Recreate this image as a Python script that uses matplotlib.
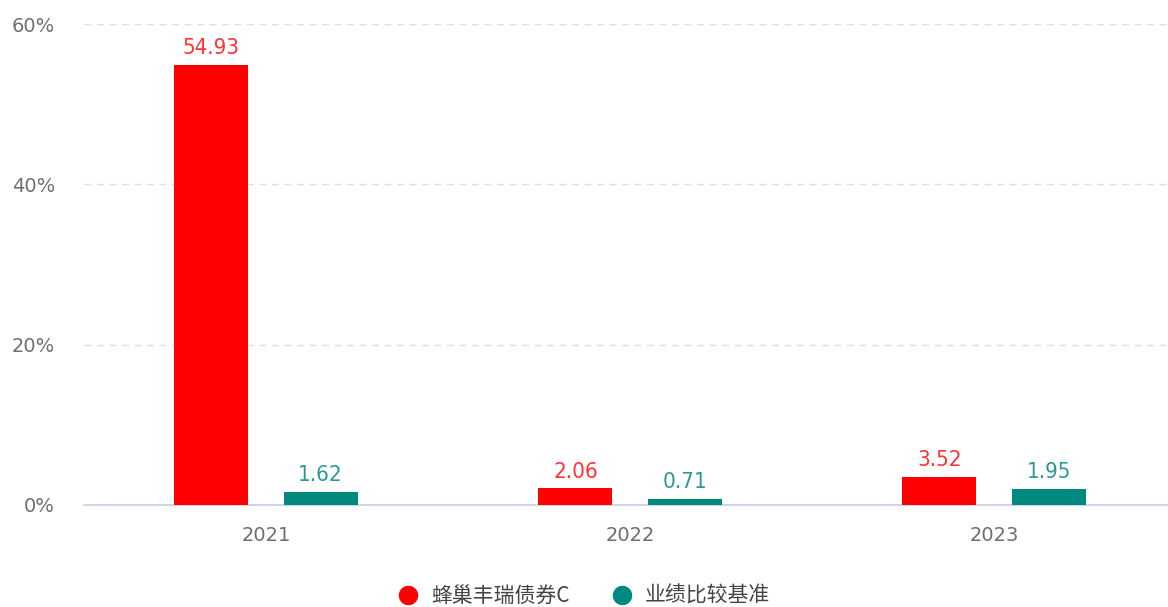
import matplotlib
matplotlib.use("Agg")
import matplotlib.pyplot as plt
import numpy as np
from matplotlib.lines import Line2D

plt.rcParams['font.family'] = ['DejaVu Sans', 'Noto Sans CJK SC']

years = ["2021", "2022", "2023"]
fund = [54.93, 2.06, 3.52]
bench = [1.62, 0.71, 1.95]
series_names = ["蜂巢丰瑞债券C", "业绩比较基准"]
yticks = [0, 20, 40, 60]

red = "#ff0000"
teal = "#00897f"
red_txt = "#ff3333"
teal_txt = "#2a9a96"

fig = plt.figure(figsize=(11.68, 6.07), dpi=100)
ax = fig.add_axes([84/1168, 102/607, 1092/1168, 481/607])

x = np.arange(len(years))
w = 0.203
off = 0.15
b1 = ax.bar(x - off, fund, w, color=red, zorder=3)
b2 = ax.bar(x + off, bench, w, color=teal, zorder=3)

lab_font = dict(family=['DejaVu Sans'], fontstretch='condensed', fontsize=16)
for rect, v in zip(b1, fund):
    ax.annotate(f"{v:.2f}", (rect.get_x() + rect.get_width()/2, v), xytext=(0, 5),
                textcoords="offset points", ha="center", va="bottom", color=red_txt, **lab_font)
for rect, v in zip(b2, bench):
    ax.annotate(f"{v:.2f}", (rect.get_x() + rect.get_width()/2, v), xytext=(0, 5),
                textcoords="offset points", ha="center", va="bottom", color=teal_txt, **lab_font)

ax.set_xlim(-0.5, len(years) - 0.5)
ax.set_ylim(0, 60)
ax.set_yticks(yticks)
ax.set_yticklabels([f"{t}%" for t in yticks])
ax.set_xticks(x)
ax.set_xticklabels(years)
ax.tick_params(axis='both', length=0, colors="#6e6e6e", labelsize=14)
ax.tick_params(axis='y', pad=21)
ax.tick_params(axis='x', pad=15)

for t in yticks[1:]:
    ax.axhline(t, color="#dedede", linestyle=(0, (5, 4)), linewidth=1, zorder=1)

for s in ["top", "right", "left"]:
    ax.spines[s].set_visible(False)
ax.spines["bottom"].set_color("#c8cde0")
ax.spines["bottom"].set_linewidth(1.2)

handles = [Line2D([0], [0], marker='o', color='w', markerfacecolor=red, markersize=15, label=series_names[0]),
           Line2D([0], [0], marker='o', color='w', markerfacecolor=teal, markersize=15, label=series_names[1])]
leg = fig.legend(handles=handles, loc="center", bbox_to_anchor=(0.5, 11/607), ncol=2, frameon=False,
                 prop=dict(family=['Noto Sans CJK SC', 'DejaVu Sans'], size=15),
                 handletextpad=0.6, columnspacing=2.0, handlelength=1.0)
for t in leg.get_texts():
    t.set_color("#444444")

fig.savefig("out.png", dpi=100)
